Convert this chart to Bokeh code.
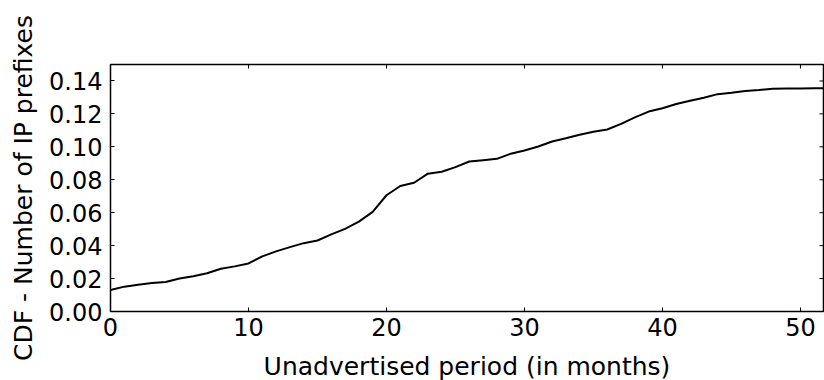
from math import pi
from bokeh.plotting import figure
from bokeh.models import FixedTicker, PrintfTickFormatter, Range1d
from bokeh.embed import file_html
from bokeh.resources import INLINE

months = list(range(0, 53))
cdf = [0.0131, 0.0151, 0.0163, 0.0173, 0.0179, 0.0200, 0.0214, 0.0232, 0.0260, 0.0274,
       0.0292, 0.0335, 0.0365, 0.0391, 0.0415, 0.0431, 0.0468, 0.0502, 0.0546, 0.0605,
       0.0706, 0.0762, 0.0782, 0.0837, 0.0849, 0.0877, 0.0911, 0.0919, 0.0927, 0.0958,
       0.0978, 0.1002, 0.1032, 0.1052, 0.1073, 0.1091, 0.1105, 0.1139, 0.1179, 0.1214,
       0.1234, 0.1260, 0.1280, 0.1298, 0.1320, 0.1329, 0.1339, 0.1345, 0.1353, 0.1355,
       0.1355, 0.1356, 0.1356]
x_ticks = [0, 10, 20, 30, 40, 50]
y_ticks = [0.00, 0.02, 0.04, 0.06, 0.08, 0.10, 0.12, 0.14]
x_label = "Unadvertised period (in months)"
y_label = "CDF - Number of IP prefixes"
x_lim = (0, 51.67)
y_lim = (0, 0.15)

FONT = "DejaVu Sans"

p = figure(frame_width=713, frame_height=247,
           min_border_left=110, min_border_right=1, min_border_top=64, min_border_bottom=69,
           x_range=Range1d(*x_lim), y_range=Range1d(*y_lim),
           output_backend="svg", toolbar_location=None,
           x_axis_label=x_label, y_axis_label=y_label)
p.background_fill_color = "white"
p.border_fill_color = "white"
p.grid.visible = False
p.outline_line_color = "black"
p.outline_line_width = 1.5

p.line(months, cdf, line_color="black", line_width=2)

# inward ticks on the right and top sides (mirroring the left/bottom ticks)
p.ray(x=[x_lim[1]] * len(y_ticks), y=y_ticks, length=4, length_units="screen",
      angle=pi, line_color="black", line_width=1)
p.ray(x=x_ticks, y=[y_lim[1]] * len(x_ticks), length=4, length_units="screen",
      angle=-pi / 2, line_color="black", line_width=1)

for ax in p.xaxis:
    ax.ticker = FixedTicker(ticks=x_ticks)
    ax.major_label_standoff = 6
    ax.axis_label_standoff = 13
for ax in p.yaxis:
    ax.ticker = FixedTicker(ticks=y_ticks)
    ax.formatter = PrintfTickFormatter(format="%.2f")
    ax.major_label_standoff = 8
    ax.axis_label_standoff = 8
for ax in p.xaxis + p.yaxis:
    ax.major_label_text_font_size = "24px"
    ax.major_label_text_font = FONT
    ax.axis_label_text_font = FONT
    ax.axis_label_text_font_size = "25px"
    ax.axis_label_text_font_style = "normal"
    ax.axis_label_text_color = "black"
    ax.major_label_text_color = "black"
    ax.axis_line_color = None
    ax.major_tick_in = 4
    ax.major_tick_out = 0
    ax.major_tick_line_color = "black"
    ax.minor_tick_line_color = None

open("out.html", "w").write(file_html(p, INLINE))
